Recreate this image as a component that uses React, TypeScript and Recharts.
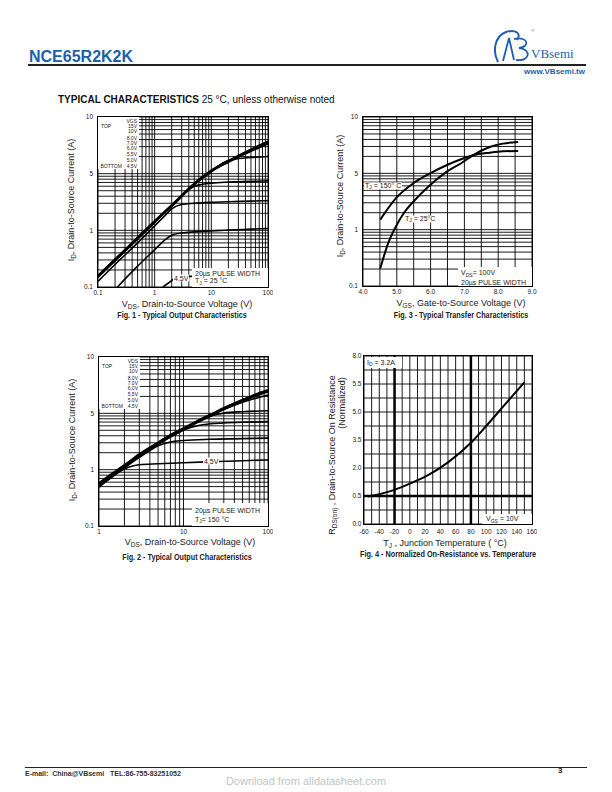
import React from "react";
import { CartesianGrid, Line, LineChart, ReferenceLine, XAxis, YAxis } from "recharts";

const FONT = "'Liberation Sans', Arial, Helvetica, sans-serif";
const BLUE = "#1d5fae";

// gate voltage steps listed in the Fig. 1 / Fig. 2 legends
const VGS_STEPS = ["15V", "10V", "8.0V", "7.0V", "6.0V", "5.5V", "5.0V", "4.5V"];

// shared log axis for ID (3 decades, printed labels as in the datasheet)
const ID_TICKS = [0.1, 1, 10, 100];
const ID_LABELS = ["0.1", "1", "5", "10"];

// Fig. 1 - output characteristics, TJ = 25 C
const FIG1_X_TICKS = [0.1, 1, 10, 100];
const FIG1_X_LABELS = ["0.1", "1", "10", "100"];
const FIG1_VDS_TOP = [0.1, 0.2, 0.5, 1, 2, 5, 10, 20, 50, 100];
const FIG1_ID_15V = [0.158, 0.31, 0.745, 1.46, 2.8, 6.7, 11.4, 16.9, 26.9, 37.3];
const FIG1_ID_10V = [0.155, 0.3, 0.73, 1.43, 2.75, 6.6, 11.2, 16.5, 26, 36];
const FIG1_ID_8V = [0.152, 0.3, 0.72, 1.42, 2.72, 6.5, 11, 16, 25, 34];
const FIG1_VDS_7V = [0.1, 0.2, 0.5, 1, 2, 5, 10, 16, 20, 30, 50, 100];
const FIG1_ID_7V = [0.15, 0.29, 0.71, 1.4, 2.7, 6.4, 10.8, 15.5, 17, 18.5, 19.3, 20.1];
const FIG1_VDS_6V = [0.1, 0.2, 0.5, 1, 2, 3, 4, 5, 7, 10, 20, 50, 100];
const FIG1_ID_6V = [0.148, 0.29, 0.7, 1.38, 2.65, 3.9, 5.2, 6.0, 6.5, 6.8, 7.1, 7.3, 7.45];
const FIG1_VDS_55V = [0.1, 0.2, 0.5, 1, 1.5, 2, 3, 5, 10, 20, 50, 100];
const FIG1_ID_55V = [0.126, 0.25, 0.6, 1.2, 1.8, 2.4, 2.85, 3.0, 3.12, 3.2, 3.28, 3.34];
const FIG1_VDS_5V = [0.22, 0.5, 1, 1.5, 2, 3, 5, 10, 20, 50, 100];
const FIG1_ID_5V = [0.1, 0.233, 0.456, 0.675, 0.82, 0.9, 0.94, 0.98, 1.01, 1.05, 1.08];
const FIG1_VDS_45V = [1.4, 1.8, 2.25, 3, 5, 10, 20, 50, 100];
const FIG1_ID_45V = [0.1, 0.12, 0.141, 0.15, 0.155, 0.16, 0.163, 0.167, 0.17];

// Fig. 2 - output characteristics, TJ = 150 C
const FIG2_X_TICKS = [1, 10, 100];
const FIG2_X_LABELS = ["1", "10", "100"];
const FIG2_VDS_TOP = [1, 1.5, 2, 3, 5, 7, 10, 15, 20, 30, 50, 70, 100];
const FIG2_ID_15V = [0.58, 0.89, 1.2, 1.88, 3.02, 4.13, 5.43, 7.5, 9.22, 12.4, 17.4, 21.4, 25.8];
const FIG2_ID_10V = [0.56, 0.87, 1.18, 1.83, 2.97, 4.03, 5.35, 7.3, 9.04, 12.1, 16.9, 20.9, 25.1];
const FIG2_ID_8V = [0.545, 0.85, 1.16, 1.79, 2.93, 3.98, 5.26, 7.2, 8.85, 11.9, 16.6, 20.2, 24.3];
const FIG2_VDS_7V = [1, 2, 3, 5, 10, 20, 30, 50, 70, 100];
const FIG2_ID_7V = [0.535, 1.14, 1.74, 2.88, 5.15, 8.75, 11.7, 15.8, 18.4, 21.1];
const FIG2_VDS_6V = [1, 2, 3, 5, 10, 15, 20, 25, 30, 50, 100];
const FIG2_ID_6V = [0.53, 1.12, 1.72, 2.84, 5.07, 7.0, 8.57, 9.6, 10.1, 10.7, 11.1];
const FIG2_VDS_55V = [1, 2, 3, 5, 7, 10, 15, 20, 50, 100];
const FIG2_ID_55V = [0.52, 1.1, 1.7, 2.8, 3.85, 5.07, 6.1, 6.47, 6.93, 7.12];
const FIG2_VDS_5V = [1, 2, 3, 4, 5, 7, 10, 20, 50, 100];
const FIG2_ID_5V = [0.5, 1.07, 1.65, 2.19, 2.65, 3.11, 3.29, 3.46, 3.55, 3.63];
const FIG2_VDS_45V = [1, 1.5, 2, 2.5, 3, 5, 10, 20, 50, 100];
const FIG2_ID_45V = [0.485, 0.81, 1.03, 1.16, 1.22, 1.27, 1.33, 1.38, 1.44, 1.49];

// Fig. 3 - transfer characteristics
const FIG3_X_TICKS = [4, 5, 6, 7, 8, 9];
const FIG3_X_LABELS = ["4.0", "5.0", "6.0", "7.0", "8.0", "9.0"];
const FIG3_VGS_150 = [4.51, 4.99, 5.48, 5.97, 6.47, 6.96, 7.25, 7.75, 8.14, 8.59];
const FIG3_ID_150 = [1.51, 3.7, 6.6, 9.9, 13.9, 18.3, 20.9, 23.3, 24.6, 24.9];
const FIG3_VGS_25 = [4.51, 4.74, 4.99, 5.23, 5.48, 5.97, 6.47, 6.96, 7.25, 7.75, 8.14, 8.59];
const FIG3_ID_25 = [0.204, 0.566, 1.19, 2.06, 3.1, 6.1, 10.6, 15.9, 20.9, 29.4, 33.7, 36.1];

// Fig. 4 - normalized on-resistance vs temperature
const FIG4_X_TICKS = [-60, -40, -20, 0, 20, 40, 60, 80, 100, 120, 140, 160];
const FIG4_X_LABELS = ["-60", "-40", "-20", "0", "20", "40", "60", "80", "100", "120", "140", "160"];
const FIG4_Y_TICKS = [0, 0.5, 1, 1.5, 2, 2.5, 3];
const FIG4_Y_LABELS = ["0.0", "0.5", "2.0", "3.5", "5.0", "5.5", "8.0"];
const FIG4_TJ = [-55, -20, 0, 25, 50, 80, 100, 125, 150];
const FIG4_RDS = [0.49, 0.61, 0.72, 0.88, 1.1, 1.45, 1.75, 2.14, 2.53];

type Series = { x: number[]; y: number[]; w: number };

const logGrid = (lo: number, hi: number) => {
  const out: number[] = [];
  for (let d = lo; d <= hi * 1.0001; d *= 10) {
    for (let m = 1; m < 10; m++) {
      const v = +(m * d).toPrecision(3);
      if (v <= hi * 1.0001) out.push(v);
    }
  }
  return out;
};

const linGrid = (lo: number, hi: number, step: number) =>
  Array.from({ length: Math.round((hi - lo) / step) + 1 }, (_, i) => +(lo + i * step).toFixed(4));

const labelAt = (vals: number[], labels: string[]) => (v: number) => {
  const i = vals.findIndex((t) => Math.abs(t - v) <= Math.abs(t) * 1e-6 + 1e-9);
  return i >= 0 ? labels[i] : "";
};

const zip = (x: number[], y: number[]) => x.map((v, i) => ({ x: v, y: y[i] }));

const tickStyle = { fontSize: 6.5, fill: "#222", fontFamily: FONT };

interface PlotProps {
  left: number;
  top: number;
  width: number;
  height: number;
  marginTop: number;
  xLog?: boolean;
  yLog?: boolean;
  xDomain: [number, number];
  yDomain: [number, number];
  xGrid: number[];
  yGrid: number[];
  xFmt: (v: number) => string;
  yFmt: (v: number) => string;
  xTickMargin?: number;
  yTickMargin?: number;
  series: Series[];
  extra?: React.ReactNode;
}

function Plot(p: PlotProps) {
  return (
    <div style={{ position: "absolute", left: p.left, top: p.top }}>
      <LineChart
        width={p.width}
        height={p.height}
        margin={{ top: p.marginTop, right: 5, bottom: 0, left: 0 }}
      >
        <CartesianGrid stroke="#000" strokeWidth={0.9} />
        <XAxis
          type="number"
          dataKey="x"
          scale={p.xLog ? "log" : "linear"}
          domain={p.xDomain}
          ticks={p.xGrid}
          interval={0}
          allowDataOverflow
          tickFormatter={p.xFmt}
          tickLine={false}
          axisLine={false}
          tickSize={0}
          tickMargin={p.xTickMargin ?? 3.5}
          height={16}
          tick={tickStyle}
        />
        <YAxis
          type="number"
          scale={p.yLog ? "log" : "linear"}
          domain={p.yDomain}
          ticks={p.yGrid}
          interval={0}
          allowDataOverflow
          tickFormatter={p.yFmt}
          tickLine={false}
          axisLine={false}
          tickSize={0}
          tickMargin={p.yTickMargin ?? 5}
          width={35}
          tick={tickStyle}
        />
        {p.extra}
        {p.series.map((s, i) => (
          <Line
            key={i}
            data={zip(s.x, s.y)}
            dataKey="y"
            type="monotone"
            stroke="#000"
            strokeWidth={s.w}
            dot={false}
            isAnimationActive={false}
          />
        ))}
      </LineChart>
    </div>
  );
}

const Sub = ({ children }: { children: React.ReactNode }) => (
  <span style={{ fontSize: "0.72em", position: "relative", top: "0.3em" }}>{children}</span>
);

interface TxtProps {
  x: number;
  y: number;
  size: number;
  children: React.ReactNode;
  align?: "left" | "center" | "right";
  bold?: boolean;
  family?: string;
  color?: string;
  rotate?: boolean;
  bg?: boolean;
  squeeze?: number;
}

function Txt({ x, y, size, children, align = "left", bold, family, color, rotate, bg, squeeze }: TxtProps) {
  const tx = align === "left" ? "0" : align === "center" ? "-50%" : "-100%";
  const extra = `${rotate ? " rotate(-90deg)" : ""}${squeeze ? ` scaleX(${squeeze})` : ""}`;
  return (
    <div
      style={{
        position: "absolute",
        left: x,
        top: y,
        transform: `translate(${tx}, -50%)${extra}`,
        transformOrigin: "50% 50%",
        fontSize: size,
        fontWeight: bold ? 700 : 400,
        fontFamily: family ?? FONT,
        color: color ?? "#222",
        whiteSpace: "nowrap",
        lineHeight: 1,
        background: bg ? "#fff" : undefined,
        padding: bg ? "0 1px" : undefined,
      }}
    >
      {children}
    </div>
  );
}

const Box = ({ x, y, w, h }: { x: number; y: number; w: number; h: number }) => (
  <div style={{ position: "absolute", left: x, top: y, width: w, height: h, background: "#fff" }} />
);

const Frame = ({ x, y, w, h }: { x: number; y: number; w: number; h: number }) => (
  <div
    style={{
      position: "absolute",
      left: x - 0.75,
      top: y - 0.75,
      width: w + 1.5,
      height: h + 1.5,
      border: "1.5px solid #000",
      boxSizing: "border-box",
    }}
  />
);

function VgsLegend({ x, y, head }: { x: number; y: number; head: string }) {
  const rows = [0, 5, 10.5, 17, 22.5, 27.5, 33, 39.5, 45.5];
  return (
    <>
      <Box x={x} y={y} w={41} h={52} />
      <Txt x={x + 39} y={y + 3.5 + rows[0]} size={5} align="right">{head}</Txt>
      <Txt x={x + 3} y={y + 3.5 + rows[1]} size={5}>TOP</Txt>
      <Txt x={x + 2.5} y={y + 3.5 + rows[8]} size={5}>BOTTOM</Txt>
      {VGS_STEPS.map((v, i) => (
        <Txt key={v} x={x + 39} y={y + 3.5 + rows[i + 1]} size={5} align="right">{v}</Txt>
      ))}
    </>
  );
}

const IdTitle = () => (
  <>
    I<Sub>D</Sub>, Drain-to-Source Current (A)
  </>
);

export default function App() {
  const idGrid = logGrid(0.1, 100);
  const idFmt = labelAt(ID_TICKS, ID_LABELS);

  return (
    <div
      style={{
        position: "absolute",
        left: 0,
        top: 0,
        width: 612,
        height: 792,
        background: "#fff",
        fontFamily: FONT,
        overflow: "hidden",
      }}
    >
      {/* header */}
      <Txt x={29} y={57} size={16} bold color={BLUE}>NCE65R2K2K</Txt>
      <div style={{ position: "absolute", left: 28, top: 64, width: 558, height: 1.5, background: "#222" }} />
      <svg style={{ position: "absolute", left: 489, top: 27 }} width={44} height={38}>
        <path d="M9 35 C 3 24, 6 9, 17 5 C 26 2, 33 6, 28 13" stroke={BLUE} strokeWidth={2} fill="none" />
        <path d="M14 34 L 20 11 L 25 33" stroke={BLUE} strokeWidth={1.8} fill="none" />
        <path d="M25 12 C 40 9, 41 20, 30 21 C 43 22, 41 35, 27 33" stroke={BLUE} strokeWidth={1.8} fill="none" />
      </svg>
      <Txt x={531} y={31} size={4} color={BLUE}>®</Txt>
      <Txt x={531} y={53} size={13} family="'Liberation Serif', 'DejaVu Serif', serif" color={BLUE}>VBsemi</Txt>
      <Txt x={585} y={72} size={8} bold color={BLUE} align="right">www.VBsemi.tw</Txt>

      <div style={{ position: "absolute", left: 58, top: 95, whiteSpace: "nowrap", fontSize: 10, lineHeight: 1, color: "#111" }}>
        <span style={{ fontWeight: 900 }}>TYPICAL CHARACTERISTICS</span> 25 °C, unless otherwise noted
      </div>

      {/* Fig. 1 */}
      <Plot
        left={63}
        top={110}
        width={210}
        height={193}
        marginTop={7}
        xLog
        yLog
        xDomain={[0.1, 100]}
        yDomain={[0.1, 100]}
        xGrid={logGrid(0.1, 100)}
        yGrid={idGrid}
        xFmt={labelAt(FIG1_X_TICKS, FIG1_X_LABELS)}
        yFmt={idFmt}
        series={[
          { x: FIG1_VDS_TOP, y: FIG1_ID_15V, w: 2 },
          { x: FIG1_VDS_TOP, y: FIG1_ID_10V, w: 2 },
          { x: FIG1_VDS_TOP, y: FIG1_ID_8V, w: 2 },
          { x: FIG1_VDS_7V, y: FIG1_ID_7V, w: 1.6 },
          { x: FIG1_VDS_6V, y: FIG1_ID_6V, w: 1.6 },
          { x: FIG1_VDS_55V, y: FIG1_ID_55V, w: 1.6 },
          { x: FIG1_VDS_5V, y: FIG1_ID_5V, w: 1.6 },
          { x: FIG1_VDS_45V, y: FIG1_ID_45V, w: 1.6 },
        ]}
      />
      <VgsLegend x={98} y={117} head="VGS" />
      <Box x={192} y={268} w={76} h={19} />
      <Txt x={195} y={272.5} size={7}>20µs PULSE WIDTH</Txt>
      <Txt x={195} y={281} size={7}>T<Sub>J</Sub> = 25 °C</Txt>
      <Txt x={173} y={277.5} size={7} bg>4.5V</Txt>
      <Frame x={98} y={117} w={170} h={170} />
      <Txt x={71} y={200} size={9} align="center" rotate><IdTitle /></Txt>
      <Txt x={187} y={304} size={9} align="center">V<Sub>DS</Sub>, Drain-to-Source Voltage (V)</Txt>
      <Txt x={182} y={314.5} size={8.5} bold align="center" squeeze={0.85}>Fig. 1 - Typical Output Characteristics</Txt>

      {/* Fig. 3 */}
      <Plot
        left={328}
        top={110}
        width={209}
        height={192}
        marginTop={7}
        yLog
        xDomain={[4, 9]}
        yDomain={[0.1, 100]}
        xGrid={linGrid(4, 9, 0.5)}
        yGrid={idGrid}
        xFmt={labelAt(FIG3_X_TICKS, FIG3_X_LABELS)}
        yFmt={idFmt}
        series={[
          { x: FIG3_VGS_150, y: FIG3_ID_150, w: 2 },
          { x: FIG3_VGS_25, y: FIG3_ID_25, w: 2 },
        ]}
      />
      <Txt x={364} y={185.5} size={7} bg>T<Sub>J</Sub> = 150° C</Txt>
      <Txt x={404} y={218.5} size={7} bg>T<Sub>J</Sub> = 25°C</Txt>
      <Box x={458} y={267} w={74} h={19} />
      <Txt x={461} y={273} size={7}>V<Sub>DS</Sub>= 100V</Txt>
      <Txt x={461} y={281.5} size={7}>20µs PULSE WIDTH</Txt>
      <Frame x={363} y={117} w={169} h={169} />
      <Txt x={340} y={196} size={9} align="center" rotate><IdTitle /></Txt>
      <Txt x={461} y={303} size={9} align="center">V<Sub>GS</Sub>, Gate-to-Source Voltage (V)</Txt>
      <Txt x={461} y={314.5} size={8.5} bold align="center" squeeze={0.85}>Fig. 3 - Typical Transfer Characteristics</Txt>

      {/* Fig. 2 */}
      <Plot
        left={64}
        top={350}
        width={209}
        height={192}
        marginTop={7}
        xLog
        yLog
        xDomain={[1, 100]}
        yDomain={[0.1, 100]}
        xGrid={logGrid(1, 100)}
        yGrid={idGrid}
        xFmt={labelAt(FIG2_X_TICKS, FIG2_X_LABELS)}
        yFmt={idFmt}
        series={[
          { x: FIG2_VDS_TOP, y: FIG2_ID_15V, w: 2.2 },
          { x: FIG2_VDS_TOP, y: FIG2_ID_10V, w: 2.2 },
          { x: FIG2_VDS_TOP, y: FIG2_ID_8V, w: 2.2 },
          { x: FIG2_VDS_7V, y: FIG2_ID_7V, w: 1.6 },
          { x: FIG2_VDS_6V, y: FIG2_ID_6V, w: 1.6 },
          { x: FIG2_VDS_55V, y: FIG2_ID_55V, w: 1.6 },
          { x: FIG2_VDS_5V, y: FIG2_ID_5V, w: 1.6 },
          { x: FIG2_VDS_45V, y: FIG2_ID_45V, w: 1.6 },
        ]}
      />
      <VgsLegend x={99} y={357} head="VDS" />
      <Box x={192} y={503} w={76} h={23} />
      <Txt x={195} y={510} size={7}>20µs PULSE WIDTH</Txt>
      <Txt x={195} y={519.5} size={7}>T<Sub>J</Sub>= 150 °C</Txt>
      <Txt x={203} y={461} size={7} bg>4.5V</Txt>
      <Frame x={99} y={357} w={169} h={169} />
      <Txt x={72} y={440} size={9} align="center" rotate><IdTitle /></Txt>
      <Txt x={190} y={542} size={9} align="center">V<Sub>DS</Sub>, Drain-to-Source Voltage (V)</Txt>
      <Txt x={187} y={557} size={8.5} bold align="center" squeeze={0.85}>Fig. 2 - Typical Output Characteristics</Txt>

      {/* Fig. 4 */}
      <Plot
        left={329}
        top={350}
        width={208}
        height={190}
        marginTop={6}
        xDomain={[-60, 160]}
        yDomain={[0, 3]}
        xGrid={linGrid(-60, 160, 10)}
        yGrid={linGrid(0, 3, 0.25)}
        xFmt={labelAt(FIG4_X_TICKS, FIG4_X_LABELS)}
        yFmt={labelAt(FIG4_Y_TICKS, FIG4_Y_LABELS)}
        xTickMargin={5}
        yTickMargin={2.5}
        series={[{ x: FIG4_TJ, y: FIG4_RDS, w: 2 }]}
        extra={[
          <ReferenceLine key="a" x={-20} stroke="#000" strokeWidth={2.5} />,
          <ReferenceLine key="b" x={80} stroke="#000" strokeWidth={2.5} />,
          <ReferenceLine key="c" y={0.5} stroke="#000" strokeWidth={2.5} />,
        ]}
      />
      <Box x={365} y={357} w={37} h={11} />
      <Txt x={367} y={362.5} size={7}>I<Sub>D</Sub> = 3.2A</Txt>
      <Box x={482} y={514} w={50} h={10} />
      <Txt x={486} y={519} size={7}>V<Sub>GS</Sub> = 10V</Txt>
      <Frame x={364} y={356} w={168} h={168} />
      <Txt x={332} y={455} size={9} align="center" rotate>
        R<Sub>DS(on)</Sub> , Drain-to-Source On Resistance
      </Txt>
      <Txt x={342} y={403} size={9} align="center" rotate>(Normalized)</Txt>
      <Txt x={445} y={543} size={9} align="center">T<Sub>J</Sub> , Junction Temperature ( °C)</Txt>
      <Txt x={448} y={554} size={8.5} bold align="center" squeeze={0.86}>Fig. 4 - Normalized On-Resistance vs. Temperature</Txt>

      {/* footer */}
      <div style={{ position: "absolute", left: 25, top: 767, width: 562, height: 1, background: "#222" }} />
      <Txt x={25} y={773} size={7} bold color="#333">E-mail:&nbsp; China@VBsemi&nbsp;&nbsp; TEL:86-755-83251052</Txt>
      <Txt x={558} y={771} size={8} bold>3</Txt>
      <Txt x={306} y={781} size={11} align="center" color="#c4c4c4">Download from alldatasheet.com</Txt>
    </div>
  );
}
